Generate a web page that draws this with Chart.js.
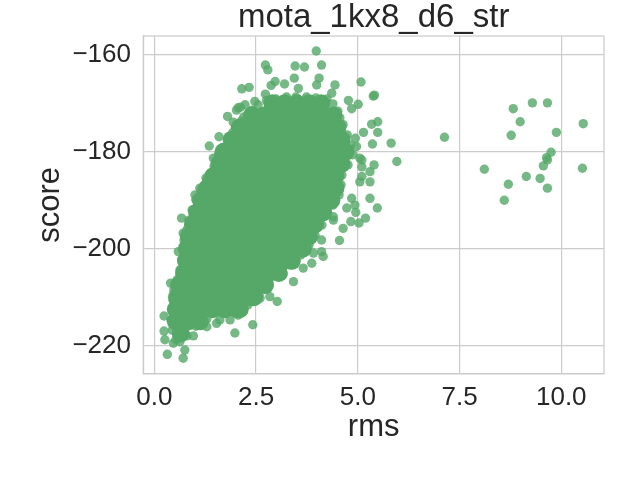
<!DOCTYPE html>
<html><head><meta charset="utf-8">
<script src="https://cdn.jsdelivr.net/npm/chart.js@4.4.1/dist/chart.umd.min.js"></script>
<style>html,body{margin:0;padding:0;background:#fff}#wrap{width:640px;height:480px;position:relative}</style>
</head><body><div id="wrap"><canvas id="c"></canvas></div>
<script>
const chartTitle = 'mota_1kx8_d6_str';
const xLabel = 'rms';
const yLabel = 'score';
const xTicks = [0, 2.5, 5, 7.5, 10];
const yTicks = [-220, -200, -180, -160];

// dense body of the cloud: one score level per row, rms values along it
const coreScores = [-170, -172.5, -175, -177.5, -180, -182.5, -185, -187.5, -190, -192.5, -195, -197.5, -200, -202.5, -205, -207.5, -210, -212.5, -215, -217.5];
const coreRms = [
  [2.9, 3.2, 3.5, 3.8, 4.1],
  [2.4, 2.7, 3.0, 3.3, 3.6, 3.9, 4.2, 4.4],
  [2.1, 2.4, 2.7, 3.0, 3.3, 3.6, 3.9, 4.2, 4.5],
  [1.9, 2.2, 2.5, 2.8, 3.1, 3.4, 3.7, 4.0, 4.3, 4.6],
  [1.7, 2.0, 2.3, 2.6, 2.9, 3.2, 3.5, 3.8, 4.1, 4.4, 4.7],
  [1.6, 1.9, 2.2, 2.5, 2.8, 3.1, 3.4, 3.7, 4.0, 4.3, 4.6],
  [1.45, 1.75, 2.05, 2.35, 2.65, 2.95, 3.25, 3.55, 3.85, 4.15, 4.45],
  [1.3, 1.6, 1.9, 2.2, 2.5, 2.8, 3.1, 3.4, 3.7, 4.0, 4.3, 4.45],
  [1.15, 1.45, 1.75, 2.05, 2.35, 2.65, 2.95, 3.25, 3.55, 3.85, 4.15, 4.35],
  [1.05, 1.35, 1.65, 1.95, 2.25, 2.55, 2.85, 3.15, 3.45, 3.75, 4.05, 4.15],
  [0.95, 1.25, 1.55, 1.85, 2.15, 2.45, 2.75, 3.05, 3.35, 3.65, 3.95],
  [0.85, 1.15, 1.45, 1.75, 2.05, 2.35, 2.65, 2.95, 3.25, 3.55, 3.8],
  [0.8, 1.1, 1.4, 1.7, 2.0, 2.3, 2.6, 2.9, 3.2, 3.5, 3.65],
  [0.78, 1.08, 1.38, 1.68, 1.98, 2.28, 2.58, 2.88, 3.18, 3.38],
  [0.73, 1.03, 1.33, 1.63, 1.93, 2.23, 2.53, 2.83, 3.06],
  [0.61, 0.91, 1.21, 1.51, 1.81, 2.11, 2.41, 2.72],
  [0.56, 0.86, 1.16, 1.46, 1.76, 2.06, 2.36, 2.45],
  [0.53, 0.83, 1.13, 1.43, 1.73, 2.03, 2.1],
  [0.53, 0.83, 1.12],
  [0.65]
];

// points along the rim of the cloud [rms, score]
const edgePoints = [
  [1.39,-185.6],[1.47,-183.0],[1.57,-180.8],[1.69,-179.1],[1.81,-177.4],[1.93,-176.0],[2.06,-174.6],[2.13,-173.7],[2.20,-172.8],[2.40,-171.4],[2.55,-170.3],[2.76,-169.4],[2.99,-169.1],[3.25,-168.7],[3.48,-168.7],[3.74,-168.7],[3.97,-168.9],[4.24,-169.1],[4.39,-170.1],[4.51,-171.6],
  [4.56,-173.0],[4.64,-174.4],[4.74,-176.5],[4.83,-178.6],[4.88,-180.6],[4.76,-182.7],[4.61,-184.8],[4.59,-186.8],[4.54,-188.9],[4.39,-191.0],[4.24,-193.0],[4.12,-195.1],[3.95,-197.2],[3.80,-199.3],[3.60,-201.3],[3.33,-203.3],[3.16,-205.4],[2.82,-207.5],[2.57,-209.5],[2.30,-211.6],[2.06,-213.7],
  [1.86,-214.7],[1.61,-214.7],[1.29,-214.5],[1.02,-216.0],[0.80,-218.0],[0.63,-219.2],
  [0.53,-218.8],[0.44,-216.8],[0.41,-214.7],[0.43,-212.6],[0.46,-210.6],[0.48,-208.5],[0.56,-206.4],[0.63,-204.4],[0.67,-202.3],[0.71,-200.2],[0.73,-198.2],[0.80,-196.1],[0.85,-194.1],[0.93,-192.0],[1.02,-189.9],[1.15,-187.9],[1.29,-185.8]
];

// loose points scattered around the cloud [rms, score]
const loosePoints = [
  [3.98,-159.2],[2.73,-162.1],[2.79,-163.1],[3.46,-162.3],[3.69,-162.5],[4.11,-162.1],[3.44,-164.8],[4.05,-164.8],[5.08,-165.6],[5.38,-168.5],[5.41,-168.3],
  [2.15,-167.0],[2.33,-166.7],[2.97,-165.5],[2.87,-166.3],[3.20,-166.0],[3.54,-166.9],[4.44,-166.2],[3.99,-166.2],[4.36,-167.9],[4.77,-169.4],[5.01,-170.2],[4.85,-171.1],
  [1.80,-172.7],[2.06,-170.9],[1.94,-173.9],[2.23,-170.3],[2.47,-169.6],[2.73,-168.1],[1.59,-176.9],[1.35,-178.8],[1.45,-181.3],[1.27,-185.4],[2.02,-171.4],[2.12,-170.8],
  [5.49,-173.8],[5.34,-174.3],[5.14,-176.0],[5.49,-176.0],[5.82,-178.2],[5.36,-178.4],[4.94,-177.2],[5.96,-182.0],[5.40,-182.7],[5.30,-184.1],[5.10,-181.7],[5.30,-186.2],[5.10,-185.1],
  [5.30,-189.6],[5.48,-191.6],[5.19,-193.7],[4.95,-192.5],[5.03,-194.7],[4.83,-194.4],[4.55,-198.3],[4.64,-195.8],[4.40,-194.1],[4.93,-191.0],[4.73,-191.6],[4.85,-189.6],[5.05,-186.2],[5.10,-183.1],[5.05,-181.3],[4.97,-178.9],
  [4.11,-198.2],[4.11,-200.6],[3.91,-200.9],[4.15,-201.6],[3.42,-206.8],[3.66,-204.0],[3.87,-203.0],[4.40,-193.4],[3.02,-210.9],[2.60,-210.2],[2.84,-209.9],
  [1.00,-188.9],[1.12,-187.5],[0.67,-193.7],[0.71,-196.8],[0.59,-200.6],[0.40,-207.1],
  [2.42,-215.7],[1.98,-217.4],[1.29,-216.1],[1.53,-215.4],[0.96,-218.0],[0.71,-222.6],[0.32,-221.8],[0.24,-217.0],[0.26,-218.8],[0.24,-213.9],[0.75,-220.9],[0.47,-219.5]
];

// far outliers at large rms [rms, score]
const farPoints = [
  [7.13,-177.0],[8.82,-171.1],[9.29,-169.9],[9.66,-169.9],[8.99,-173.8],[8.77,-176.6],[9.88,-176.0],[10.54,-174.2],[9.75,-180.1],[9.64,-181.2],[9.66,-181.7],[9.56,-182.9],[10.52,-183.4],[8.11,-183.6],[9.14,-185.1],[9.48,-185.5],[8.70,-186.7],[9.66,-187.5],[8.60,-190.0]
];

const coreData = [];
coreScores.forEach((s, i) => coreRms[i].forEach(r => coreData.push({x: r, y: s})));
const looseData = edgePoints.concat(loosePoints, farPoints).map(p => ({x: p[0], y: p[1]}));

const FONT = "'Liberation Sans', Arial, sans-serif";
const TXT = '#262626';
const GRID = '#cccccc';

const framePlugin = {
  id: 'frame',
  afterDraw(chart) {
    const {ctx, chartArea: a} = chart;
    ctx.save();
    ctx.strokeStyle = GRID;
    ctx.lineWidth = 1.25;
    ctx.strokeRect(a.left, a.top, a.right - a.left, a.bottom - a.top);
    ctx.restore();
  }
};

new Chart(document.getElementById('c'), {
  type: 'scatter',
  data: {
    datasets: [
      {label: 'rim', data: looseData, backgroundColor: 'rgba(85,168,104,0.8)', borderWidth: 0, pointRadius: 4.7, pointHoverRadius: 4.7},
      {label: 'core', data: coreData, backgroundColor: '#55a868', borderWidth: 0, pointRadius: 9, pointHoverRadius: 9}
    ]
  },
  options: {
    responsive: true,
    maintainAspectRatio: false,
    animation: false,
    events: [],
    layout: {padding: {left: 0, right: 36, top: 0, bottom: 0}, autoPadding: false},
    plugins: {
      legend: {display: false},
      tooltip: {enabled: false},
      title: {
        display: true, text: chartTitle, fullSize: false, color: TXT,
        font: {family: FONT, size: 33, weight: 'normal', lineHeight: 1},
        padding: {top: 1.6, bottom: 1.4}
      }
    },
    scales: {
      x: {
        type: 'linear', min: -0.27, max: 11.05,
        afterBuildTicks: s => { s.ticks = xTicks.map(v => ({value: v})); },
        afterFit: s => { s.height = 106.3; },
        grid: {color: GRID, lineWidth: 1.2, drawTicks: false},
        border: {display: true, color: GRID, width: 1.2},
        ticks: {padding: 9, color: TXT, font: {family: FONT, size: 26}, maxRotation: 0, callback: v => v.toFixed(1)},
        title: {display: true, text: xLabel, color: TXT, font: {family: FONT, size: 31, lineHeight: 1}, padding: {top: 0, bottom: 37}}
      },
      y: {
        type: 'linear', min: -225.8, max: -156.1,
        afterBuildTicks: s => { s.ticks = yTicks.map(v => ({value: v})); },
        afterFit: s => { s.width = 143.3; },
        grid: {color: GRID, lineWidth: 1.2, drawTicks: false},
        border: {display: true, color: GRID, width: 1.2},
        ticks: {padding: 12.3, color: TXT, font: {family: FONT, size: 26}, callback: v => String(v).replace('-', '\u2212')},
        title: {display: true, text: yLabel, color: TXT, font: {family: FONT, size: 31, lineHeight: 1}, padding: {top: 35, bottom: 0}}
      }
    }
  },
  plugins: [framePlugin]
});
</script>
</body></html>
